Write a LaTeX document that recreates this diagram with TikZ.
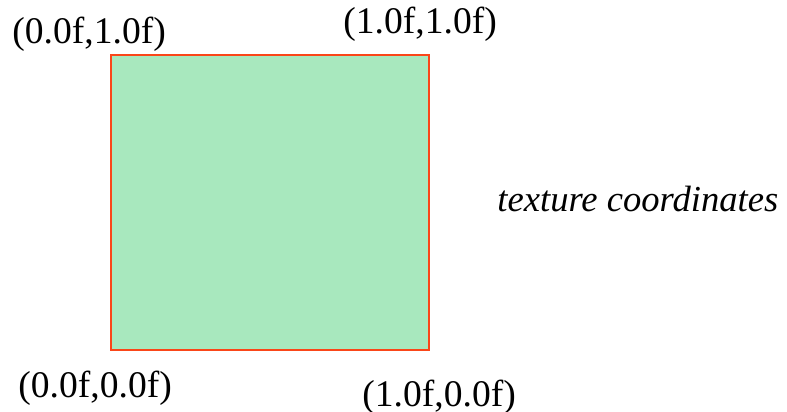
\documentclass[tikz,border=0pt]{standalone}
\usepackage{fontspec}
\setmainfont{Liberation Serif}
\usetikzlibrary{positioning}
\definecolor{quadgreen}{RGB}{168, 232, 190}
\definecolor{quadedge}{RGB}{250, 70, 25}

\begin{document}
\begin{tikzpicture}[x=0.5pt, y=-0.5pt,
    coord/.style={anchor=base west, inner sep=0pt, font=\fontsize{18.8}{22}\selectfont},
    quadbox/.style={fill=quadgreen, draw=quadedge, line width=1pt}]
        \useasboundingbox (0,0) rectangle (787,412);

        % Textured quad
        \filldraw[quadbox] (111,55) rectangle (429,350);
        \coordinate (quad) at (270,202);

        % Corner labels
        \node[coord] (tl) at (12,43) {(0.0f,1.0f)};
        \node[coord] (tr) at (343,33) {(1.0f,1.0f)};
        \node[coord] (bl) at (18,397) {(0.0f,0.0f)};
        \node[coord] (br) at (362,406) {(1.0f,0.0f)};

        % Caption
        \node[coord, font=\fontsize{18.3}{22}\selectfont\itshape] (cap) at (497,211) {texture coordinates};
    \end{tikzpicture}
\end{document}
